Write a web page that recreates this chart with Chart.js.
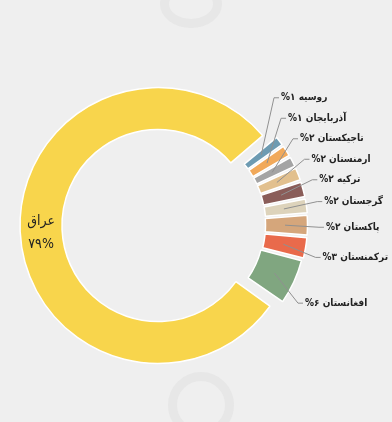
<!DOCTYPE html>
<html lang="fa">
<head>
<meta charset="utf-8">
<script src="https://cdn.jsdelivr.net/npm/chart.js@4.4.1/dist/chart.umd.min.js"></script>
<style>
  html, body { margin: 0; padding: 0; background: #efefef; }
  #wrap { position: relative; width: 392px; height: 422px; overflow: hidden; }
  .mark { position: absolute; border-radius: 50%; border: 9px solid #e7e7e7; }
  canvas { position: absolute; left: 0; top: 0; }
</style>
</head>
<body>
<div id="wrap">
  <div class="mark" style="left:160px; top:-20px; width:44px; height:30px;"></div>
  <div class="mark" style="left:168px; top:372px; width:48px; height:48px;"></div>
  <canvas id="chart" width="392" height="422"></canvas>
</div>
<script>
// slice order is clockwise, starting with Iraq
const countries = ["عراق", "روسیه", "آذربایجان", "تاجیکستان", "ارمنستان", "ترکیه", "گرجستان", "پاکستان", "ترکمنستان", "افغانستان"];
const shares = [79.2, 1.3, 1.5, 1.4, 1.7, 2.0, 1.9, 2.6, 2.7, 5.7];
const shownPercent = ["۷۹", "۱", "۱", "۲", "۲", "۲", "۲", "۲", "۳", "۶"];
const colors = ["#f8d54c", "#6d9bb2", "#f1a95a", "#a4a4a4", "#e2c08e", "#8a5d59", "#ddd3bb", "#d5a67b", "#e96a4b", "#80a680"];

const textColor = "#222222";
const labelFont = 'bold 10px "DejaVu Sans Condensed", "DejaVu Sans", sans-serif';

const sideLabels = {
  id: "sideLabels",
  afterDraw(chart) {
    const ctx = chart.ctx;
    const arcs = chart.getDatasetMeta(0).data;
    const cx = arcs[1].x, cy = arcs[1].y;
    const rOut = arcs[1].outerRadius, rIn = arcs[1].innerRadius;
    const ring = rOut + 12;               // visible outer edge of the small slices
    const rMid = (rOut + rIn) / 2 + 10;

    // outside labels: start at the slice angle, then push away from the middle
    const items = [];
    for (let i = 1; i < arcs.length; i++) {
      const a = (arcs[i].startAngle + arcs[i].endAngle) / 2;
      items.push({ i, a, y: cy + 2 + Math.sin(a) * (ring + 44) });
    }
    const gap = 20.5;
    const upper = items.filter(it => it.y < cy).reverse();
    const lower = items.filter(it => it.y >= cy);
    for (let j = 1; j < upper.length; j++) {
      upper[j].y = Math.min(upper[j].y, upper[j - 1].y - gap);
    }
    for (let j = 1; j < lower.length; j++) {
      lower[j].y = Math.max(lower[j].y, lower[j - 1].y + gap);
    }

    ctx.save();
    ctx.font = labelFont;
    ctx.fillStyle = textColor;
    ctx.strokeStyle = "#909090";
    ctx.lineWidth = 1;
    ctx.textBaseline = "middle";
    ctx.textAlign = "left";
    ctx.direction = "rtl";
    const R = ring + 18;
    for (const it of items) {
      const dy = it.y - cy;
      const x = cx + Math.max(Math.sqrt(Math.max(R * R - dy * dy, 0)), Math.cos(it.a) * (ring + 2));
      ctx.beginPath();
      ctx.moveTo(cx + Math.cos(it.a) * rMid, cy + Math.sin(it.a) * rMid);
      ctx.lineTo(x - 7, it.y);
      ctx.lineTo(x - 2, it.y);
      ctx.stroke();
      ctx.fillText(countries[it.i] + " " + shownPercent[it.i] + "%", x, it.y);
    }

    // Iraq label inside its own slice
    const big = arcs[0];
    const a0 = (big.startAngle + big.endAngle) / 2;
    const rm = big.options.offset / 2 + (big.outerRadius + big.innerRadius) / 2;
    const bx = big.x + Math.cos(a0) * rm;
    const by = big.y + Math.sin(a0) * rm;
    ctx.font = '14px "DejaVu Sans Condensed", "DejaVu Sans", sans-serif';
    ctx.textAlign = "center";
    ctx.fillText(countries[0], bx, by - 9);
    ctx.fillText(shownPercent[0] + "%", bx, by + 14);
    ctx.restore();
  }
};

new Chart(document.getElementById("chart"), {
  type: "doughnut",
  data: {
    labels: countries,
    datasets: [{
      data: shares,
      backgroundColor: colors,
      borderColor: "#ffffff",
      borderWidth: shares.map((v, i) => i === 0 ? 1.5 : 1.5),
      offset: shares.map((v, i) => i === 0 ? 48 : 25)
    }]
  },
  options: {
    responsive: false,
    animation: false,
    rotation: 125,
    radius: 126,
    cutout: "66.7%",
    layout: { padding: { left: 0, right: 52, top: 28, bottom: 0 } },
    plugins: {
      legend: { display: false },
      tooltip: { enabled: false }
    }
  },
  plugins: [sideLabels]
});
</script>
</body>
</html>
